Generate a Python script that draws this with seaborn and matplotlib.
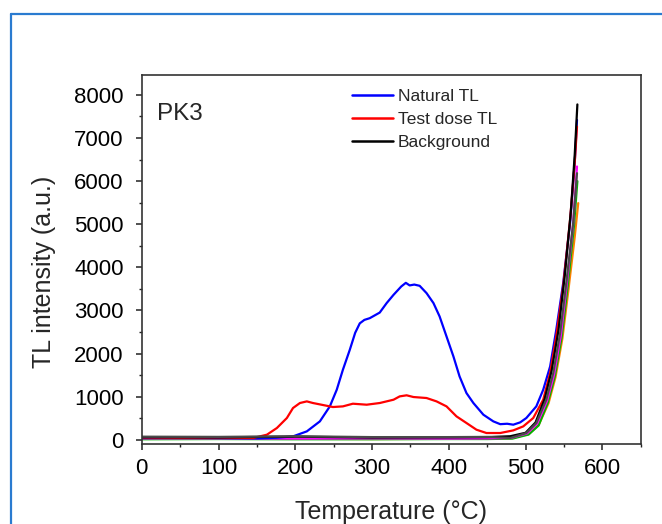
import numpy as np
import pandas as pd
import matplotlib
matplotlib.use("Agg")
import matplotlib.pyplot as plt
from matplotlib.lines import Line2D
from matplotlib.ticker import MultipleLocator
import seaborn as sns

# ---------------- data ----------------
natural_T = [0, 50, 100, 150, 175, 197, 215, 232, 245, 254, 262, 271, 278, 284, 290,
             297, 303, 310, 319, 328, 338, 344, 349, 355, 362, 371, 380, 388, 397, 406,
             414, 423, 432, 445, 458, 467, 476, 484, 493, 501, 514, 523, 532, 540, 549,
             558, 564, 567]
natural_I = [40, 45, 40, 30, 45, 77, 193, 425, 773, 1160, 1623, 2087, 2480, 2700, 2780,
             2820, 2880, 2950, 3170, 3362, 3555, 3640, 3580, 3600, 3571, 3401, 3170, 2860,
             2396, 1932, 1468, 1082, 851, 580, 425, 360, 370, 348, 402, 503, 773, 1160,
             1700, 2551, 3633, 5024, 6416, 7420]

testdose_T = [0, 50, 100, 145, 163, 176, 189, 197, 206, 215, 223, 234, 249, 262, 275,
              293, 310, 328, 336, 345, 354, 371, 384, 397, 410, 423, 436, 449, 467, 484,
              497, 510, 523, 532, 540, 549, 558, 564, 567]
testdose_I = [50, 45, 50, 39, 116, 271, 503, 735, 851, 889, 851, 812, 758, 773, 835,
              812, 851, 928, 1005, 1030, 990, 967, 889, 773, 541, 387, 232, 155, 155, 216,
              309, 503, 928, 1546, 2396, 3555, 5101, 6416, 7265]

background_T = [0, 100, 200, 300, 400, 450, 480, 500, 513, 525, 534, 543, 551, 559, 564, 567.5]
background_I = [60, 55, 70, 50, 55, 60, 80, 160, 400, 950, 1600, 2550, 3800, 5300, 6600, 7780]

bg2_T = [0, 100, 200, 300, 400, 450, 480, 501, 514, 527, 536, 545, 553.5, 562, 567]
bg2_I = [70, 65, 80, 60, 60, 65, 39, 155, 387, 928, 1546, 2474, 3710, 5024, 6184]

bg3_T = [0, 100, 200, 300, 400, 450, 482, 504, 517, 530, 539, 548, 556, 564, 568.6]
bg3_I = [20, 25, 20, 15, 20, 25, 35, 130, 340, 850, 1450, 2350, 3500, 4700, 5490]

bg4_T = [0, 100, 200, 300, 400, 450, 481, 502, 515, 528, 537, 546, 554, 562, 567]
bg4_I = [30, 30, 25, 30, 25, 30, 40, 145, 370, 900, 1500, 2420, 3650, 5000, 6340]

bg5_T = [0, 100, 200, 300, 400, 450, 483, 504, 517, 529, 538, 547, 555, 563, 567.5]
bg5_I = [10, 15, 10, 10, 15, 15, 25, 120, 330, 860, 1460, 2380, 3580, 4950, 6000]

series = [
    ("bg3", bg3_T, bg3_I, "#ff8000"),
    ("bg5", bg5_T, bg5_I, "#00b400"),
    ("bg4", bg4_T, bg4_I, "#ff00ff"),
    ("Natural TL", natural_T, natural_I, "#0000ff"),
    ("Test dose TL", testdose_T, testdose_I, "#ff0000"),
    ("Background", background_T, background_I, "#000000"),
    ("bg2", bg2_T, bg2_I, "#4a4a4a"),
]

# ---------------- figure ----------------
sns.set_style("ticks")
plt.rcParams["font.family"] = ["Liberation Sans", "DejaVu Sans"]

W, H = 662, 524
fig = plt.figure(figsize=(W / 100, H / 100), dpi=100)
left, right, top, bottom = 141.8, 640.7, 74.7, 444.0
ax = fig.add_axes([left / W, 1 - bottom / H, (right - left) / W, (bottom - top) / H])

for name, T, I, c in series:
    df = pd.DataFrame({"T": T, "I": I})
    sns.lineplot(data=df, x="T", y="I", ax=ax, color=c, lw=1.6, sort=False,
                 estimator=None)

ax.set_xlim(0, 650)
ax.set_ylim(-100, 8470)
ax.xaxis.set_major_locator(MultipleLocator(100))
ax.xaxis.set_minor_locator(MultipleLocator(50))
ax.yaxis.set_major_locator(MultipleLocator(1000))
ax.yaxis.set_minor_locator(MultipleLocator(500))
ax.tick_params(which="major", direction="out", length=4, width=1.1, colors="#222222",
               labelsize=16, labelcolor="black")
ax.tick_params(axis="y", which="major", pad=9)
ax.tick_params(axis="x", which="major", pad=6)
ax.tick_params(which="minor", direction="out", length=2.5, width=1.0, colors="#222222")
for s in ax.spines.values():
    s.set_color("#333333")
    s.set_linewidth(1.2)

ax.set_xlabel("Temperature (\u00b0C)", fontsize=18)
ax.set_ylabel("TL intensity (a.u.)", fontsize=18)
ax.xaxis.set_label_coords(0.5, -(512 - bottom) / (bottom - top))
ax.yaxis.set_label_coords(-(left - 44) / (right - left), (bottom - 271.5) / (bottom - top))
ax.xaxis.label.set_va("center")
ax.yaxis.label.set_va("center")

ax.text((157 - left) / (right - left), (bottom - 120) / (bottom - top), "PK3",
        transform=ax.transAxes, fontsize=17.5, ha="left", va="baseline")

handles = [Line2D([], [], color="#0000ff", lw=1.8),
           Line2D([], [], color="#ff0000", lw=1.8),
           Line2D([], [], color="#000000", lw=1.8)]
ax.legend(handles, ["Natural TL", "Test dose TL", "Background"], loc="upper left",
          bbox_to_anchor=(352 / W, 1 - 89 / H), bbox_transform=fig.transFigure,
          frameon=False, fontsize=12.5, handlelength=2.35, handletextpad=0.3,
          labelspacing=0.45, borderpad=0, borderaxespad=0)

# blue outer frame (only top and left edges visible in the reference)
frame_c = "#2a7bd0"
fig.add_artist(Line2D([11 / W, 11 / W], [0, 1 - 14 / H], transform=fig.transFigure,
                      color=frame_c, lw=1.6))
fig.add_artist(Line2D([11 / W, 1.0], [1 - 14 / H, 1 - 14 / H], transform=fig.transFigure,
                      color=frame_c, lw=1.6))

fig.savefig("out.png", dpi=100)
